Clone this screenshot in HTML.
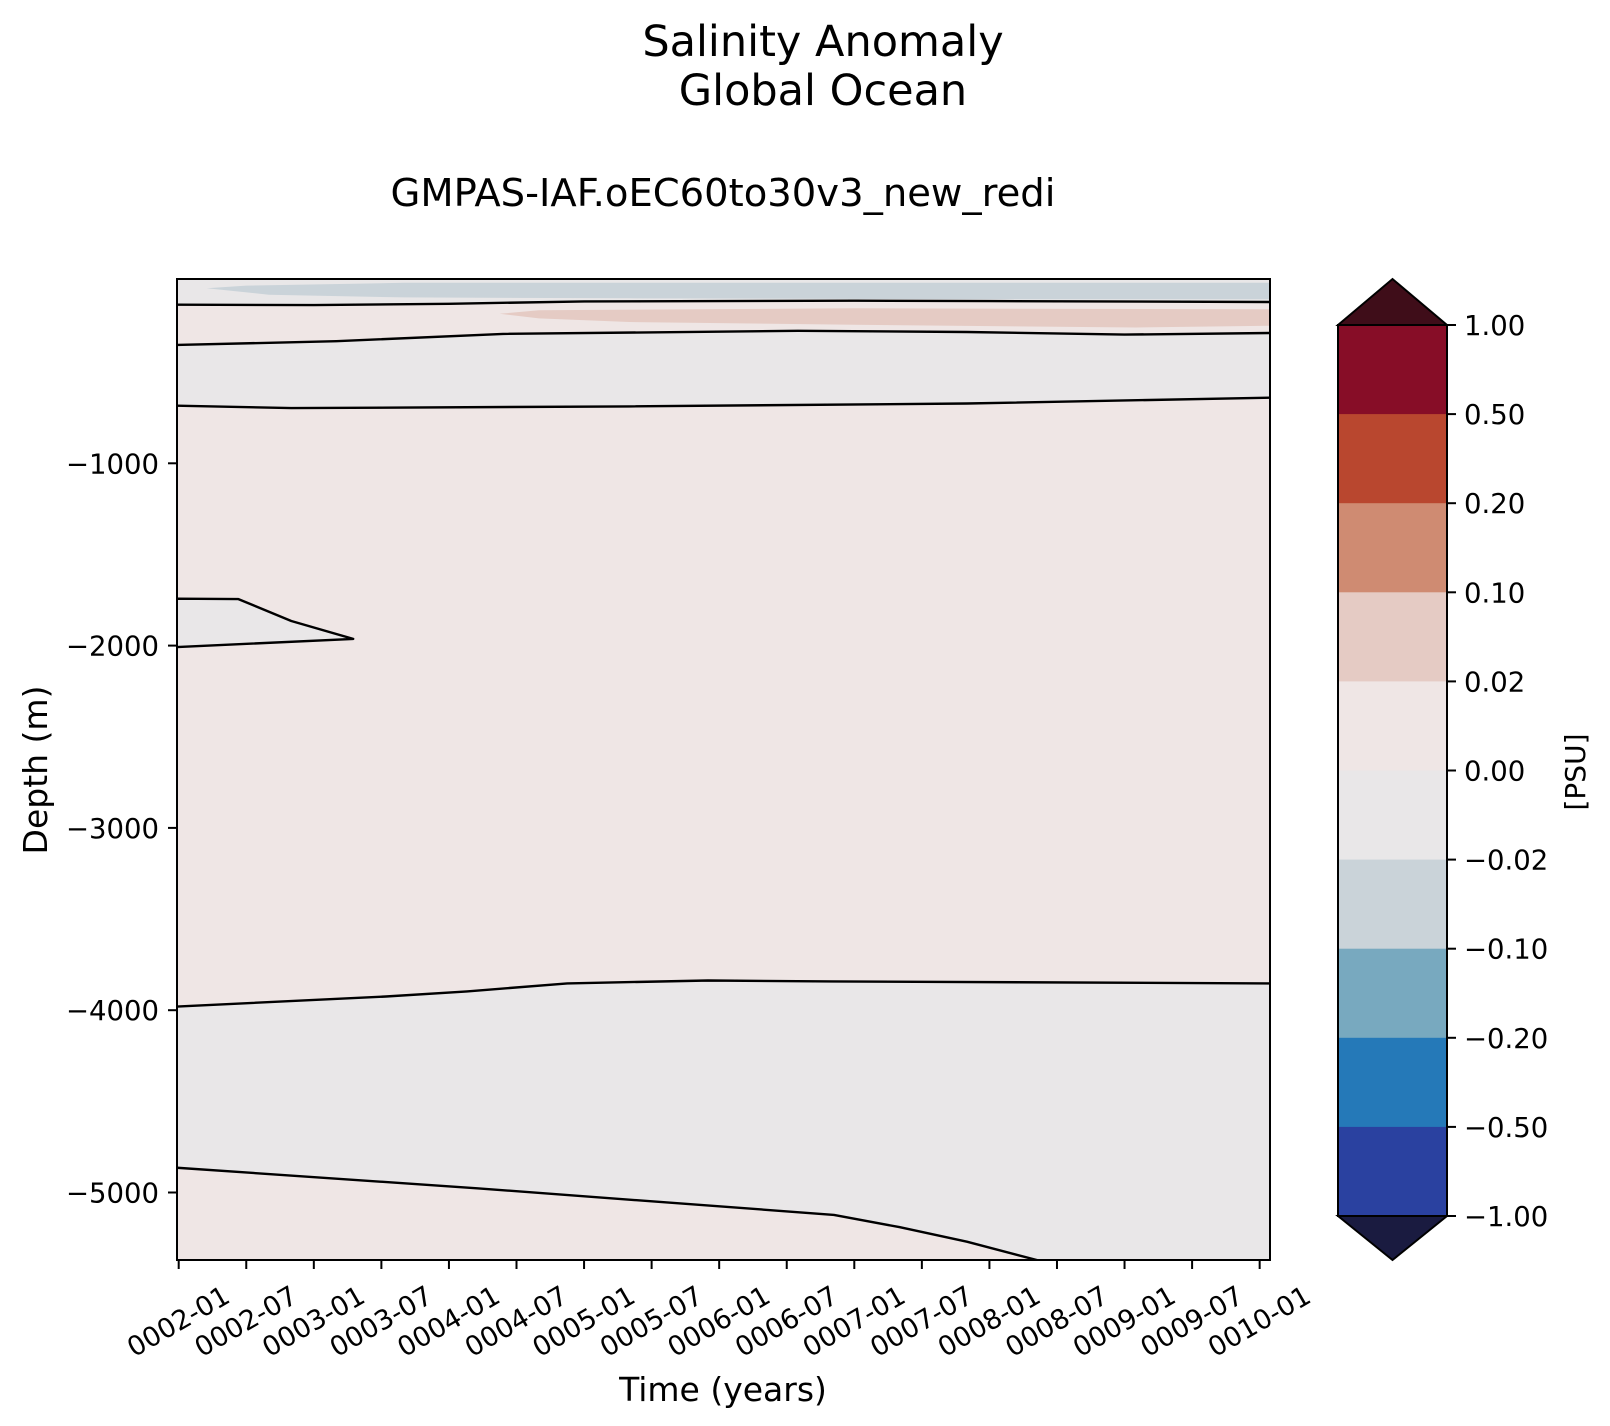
<!DOCTYPE html>
<html><head><meta charset="utf-8"><style>
html,body{margin:0;padding:0;background:#fff}
svg{display:block;font-family:"DejaVu Sans","Liberation Sans",sans-serif}
</style></head><body>
<svg id="c" width="1610" height="1426" xmlns="http://www.w3.org/2000/svg">
<text x="823" y="56" font-size="43" text-anchor="middle">Salinity Anomaly</text>
<text x="823" y="105" font-size="43" text-anchor="middle">Global Ocean</text>
<text x="723" y="206" font-size="38.5" text-anchor="middle">GMPAS-IAF.oEC60to30v3_new_redi</text>
<text x="723" y="1401" font-size="33" text-anchor="middle">Time (years)</text>
<text transform="translate(47,770) rotate(-90)" font-size="33" text-anchor="middle">Depth (m)</text>
<text transform="translate(1585,772) rotate(-90)" font-size="28" text-anchor="middle">[PSU]</text>
<g id="plot"></g><g id="cbar"></g>
</svg>
<script>
// data (months since 0002-01, depth m)
const xTickLabels=["0002-01","0002-07","0003-01","0003-07","0004-01","0004-07","0005-01","0005-07","0006-01","0006-07","0007-01","0007-07","0008-01","0008-07","0009-01","0009-07","0010-01"];
const yTicks=[-1000,-2000,-3000,-4000,-5000];
const lineA=[[-0.2,-130],[12,-132],[24,-125],[36,-112],[60,-108],[72,-110],[96.9,-115]];
const lineB=[[-0.2,-351],[14,-330],[28.8,-290],[55,-273],[70,-280],[84,-294],[96.9,-285]];
const lineC=[[-0.2,-684],[10,-697],[40,-688],[70,-672],[96.9,-640]];
const wedge=[[-0.2,-1743],[5.3,-1745],[10,-1865],[15.5,-1963],[-0.2,-2008]];
const lineD=[[-0.2,-3980],[18.4,-3925],[25.6,-3897],[34.5,-3853],[47,-3837],[58,-3842],[96.9,-3853]];
const lineE=[[-0.2,-4864],[26.5,-4977],[58.2,-5123],[64,-5190],[70,-5270],[76.5,-5375]];
const bluePatch=[[2.5,-40],[6,-25],[20,-10],[96.9,-10],[96.9,-100],[70,-100],[40,-95],[20,-90],[8,-75]];
const pinkPatch=[[28.5,-180],[32,-160],[60,-150],[96.9,-155],[96.9,-245],[85,-255],[60,-240],[40,-225],[32,-205]];
const cbLabels=["1.00","0.50","0.20","0.10","0.02","0.00","\u22120.02","\u22120.10","\u22120.20","\u22120.50","\u22121.00"];
const cbColors=["#870d27","#b9472f","#cf8b72","#e5cbc4","#efe6e5","#e9e7e8","#cad3d9","#78a9bf","#2579b8","#2a41a0"];

const L=177,R=1270,T=279,B=1260;
const xs=m=>178.7+m*11.26;
const ys=d=>281-d*0.1823;
const ns="http://www.w3.org/2000/svg";
const g=document.getElementById('plot'),cg=document.getElementById('cbar');
function mk(p,t,a){const e=document.createElementNS(ns,t);for(const k in a)e.setAttribute(k,a[k]);p.appendChild(e);return e;}
const pts=arr=>arr.map(p=>xs(p[0]).toFixed(1)+','+ys(p[1]).toFixed(1)).join(' ');
const cp=mk(g,'clipPath',{id:'clip'});mk(cp,'rect',{x:L,y:T,width:R-L,height:B-T});
const bg=mk(g,'rect',{x:L,y:T,width:R-L,height:B-T,fill:'#efe6e5'});

const fg=mk(g,'g',{'clip-path':'url(#clip)'});
function band(upper,lower,fill,name){
  const poly=upper.concat(lower.slice().reverse());
  const e=mk(fg,'polygon',{points:pts(poly),fill:fill});
  
  
}
band([[-1,100],[98,100]],lineA,'#e9e7e8','surface-negative-band');
band(lineB,lineC,'#e9e7e8','upper-negative-band');
band(lineD,lineE.concat([[77,-5500],[98,-5500]]),'#e9e7e8','deep-negative-band');
band(wedge,[],'#e9e7e8','intermediate-negative-wedge');
band(bluePatch,[],'#cad3d9','surface-fresh-patch');
band(pinkPatch,[],'#e5cbc4','subsurface-salty-patch');
[[lineA,'contour-a'],[lineB,'contour-b'],[lineC,'contour-c'],[wedge.concat([wedge[0]]),'contour-wedge'],[lineD,'contour-d'],[lineE,'contour-e']].forEach(([a,n])=>{
  const e=mk(fg,'polyline',{points:pts(a),fill:'none',stroke:'#000','stroke-width':2.4,'stroke-linejoin':'round'});
  
  
});
const fr=mk(g,'rect',{x:L,y:T,width:R-L,height:B-T,fill:'none',stroke:'#000','stroke-width':2});

xTickLabels.forEach((lab,i)=>{
  const x=xs(i*6);
  mk(g,'line',{x1:x,y1:B,x2:x,y2:B+9,stroke:'#000','stroke-width':2});
  const t=mk(g,'text',{transform:`translate(${x},${B+62}) rotate(-30)`,'font-size':27,'text-anchor':'middle','dominant-baseline':'central'});
  t.textContent=lab;
  
  
});
yTicks.forEach(d=>{
  const y=ys(d);
  mk(g,'line',{x1:L-9,y1:y,x2:L,y2:y,stroke:'#000','stroke-width':2});
  const t=mk(g,'text',{x:L-18,y:y+10,'font-size':27.5,'text-anchor':'end'});
  t.textContent=String(d).replace('-','\u2212');
  
  
});
// colorbar
const CL=1338,CR=1447,CT=325,CB=1216,h=(CB-CT)/cbColors.length;
const cx=(CL+CR)/2;
const tt=mk(cg,'polygon',{points:`${CL},${CT} ${cx},279 ${CR},${CT}`,fill:'#3f0d19',stroke:'#000','stroke-width':2});

const tb=mk(cg,'polygon',{points:`${CL},${CB} ${cx},1260 ${CR},${CB}`,fill:'#1a1b40',stroke:'#000','stroke-width':2});

cbColors.forEach((c,i)=>{
  const e=mk(cg,'rect',{x:CL,y:CT+i*h,width:CR-CL,height:h+0.5,fill:c});
  
  
});
mk(cg,'rect',{x:CL,y:CT,width:CR-CL,height:CB-CT,fill:'none',stroke:'#000','stroke-width':2});
cbLabels.forEach((lab,i)=>{
  const y=CT+i*h;
  mk(cg,'line',{x1:CR,y1:y,x2:CR+9,y2:y,stroke:'#000','stroke-width':2});
  const t=mk(cg,'text',{x:CR+17,y:y+10,'font-size':27.5});
  t.textContent=lab;
  
  
});
</script>
</body></html>
